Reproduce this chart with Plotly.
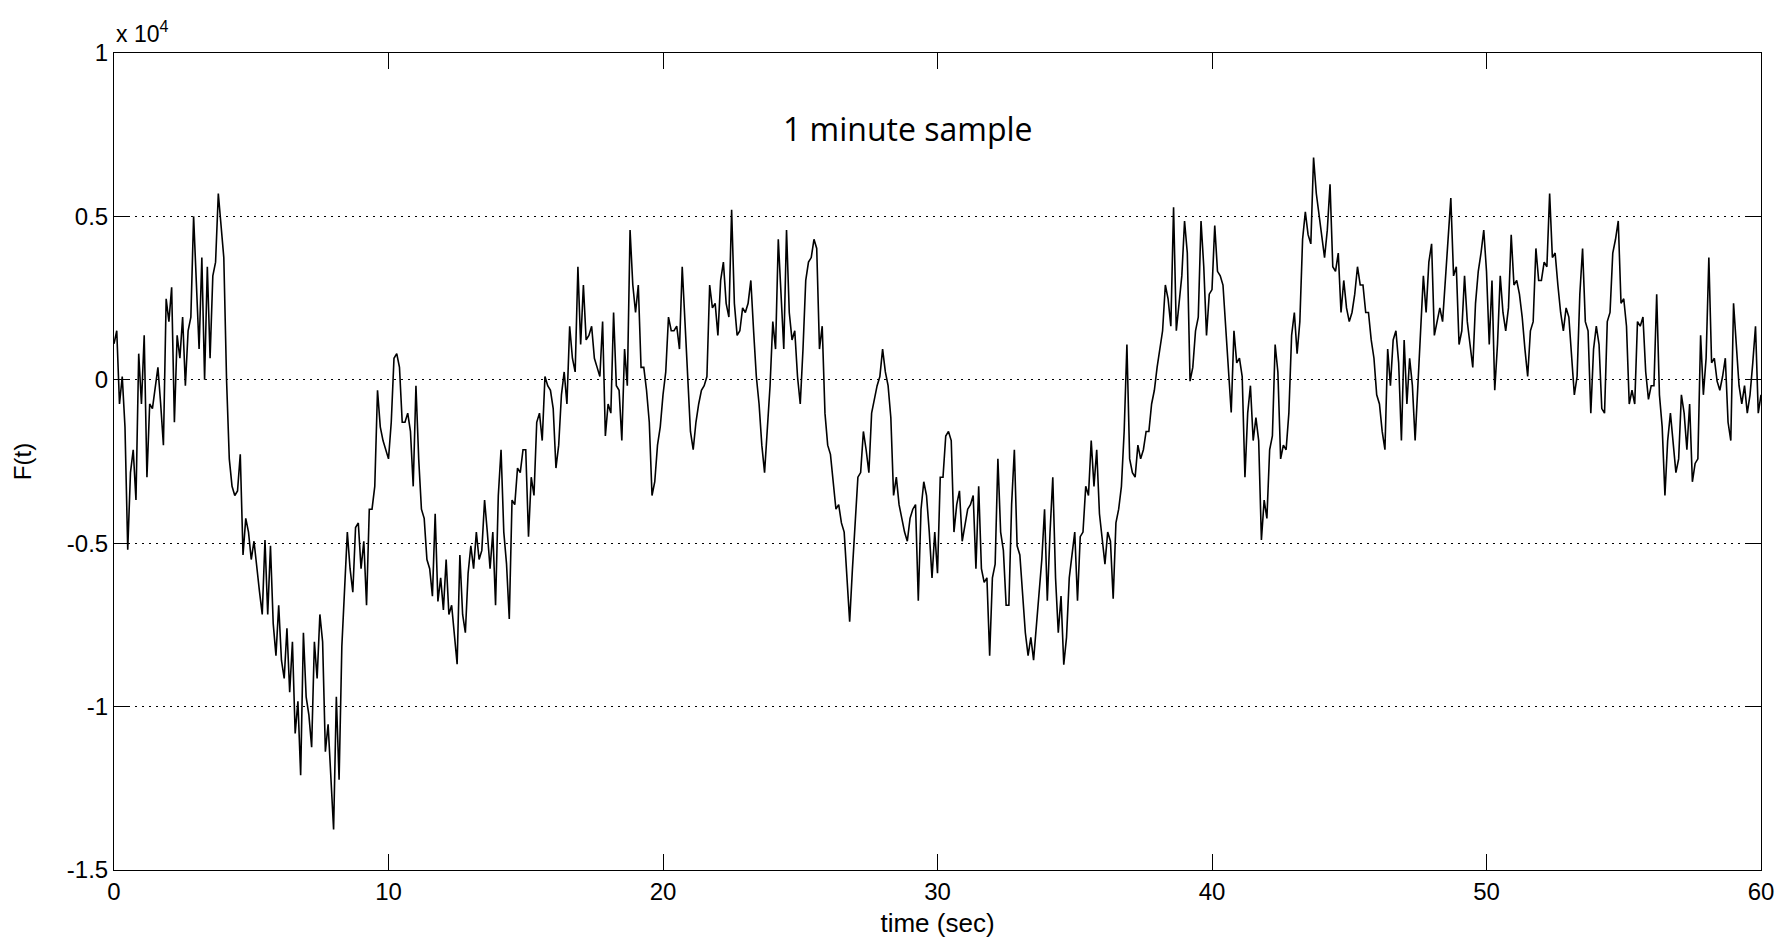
import numpy as np
import plotly.graph_objects as go

# Force record F(t), sampled every 0.1 s over one minute (601 samples).
DT = 0.1

f_00_05 = [1100, 1500, -740, 100, -1440, -5200, -2840, -2140, -3680, 800,
           -740, 1360, -2980, -740, -880, -180, 380, -740, -2000, 2480,
           1780, 2830, -1300, 1360, 660, 1920, -180, 1500, 1920, 5000,
           2760, 940, 3740, 0, 3460, 660, 3180, 3600, 5700, 4580,
           3740, 0, -2420, -3260, -3540, -3400, -2280, -5360, -4240, -4660,
           -5500, -4940, -5780, -6480]
f_05_11 = [-7180, -4900, -7180, -5080, -7460, -8440, -6900, -8580, -9140, -7600,
           -9560, -8020, -10820, -9840, -12100, -7740, -9700, -10260, -11240, -8020,
           -9140, -7180, -8020, -11380, -10540, -12100, -13760, -9700, -12240, -8160,
           -6500, -4660, -5780, -6500, -4520, -4380, -5780, -4940, -6900, -3960,
           -3960, -3260, -320, -1440, -1860, -2140, -2420, -1300, 660, 800,
           380, -1300, -1300, -1020]
f_11_16 = [-1580, -3260, -180, -2420, -3960, -4240, -5500, -5780, -6620, -4100,
           -6780, -6060, -7040, -5500, -7180, -6900, -7900, -8700, -5360, -7180,
           -7740, -5920, -5080, -5780, -4660, -5500, -5220, -3680, -4660, -5780,
           -4660, -6900, -3540, -2140, -4660, -5640, -7320, -3680, -3820, -2700,
           -2840, -2140, -2140, -4800, -2980, -3540, -1300, -1020, -1860, 100,
           -180, -320, -880, -2700, -2000]
f_16_22 = [-460, 240, -740, 1640, 660, 240, 3460, 1080, 2900, 1220,
           1360, 1640, 660, 380, 100, 1780, -1720, -740, -1020, 2060,
           -180, -320, -1860, 940, -180, 4580, 2900, 2060, 2900, 380,
           380, -320, -1300, -3540, -3120, -2000, -1440, -460, 240, 1920,
           1500, 1500, 1640, 940, 3460, 1780, 240, -1580, -2140, -1300,
           -740, -320, -180, 100]
f_22_27 = [2900, 2200, 2340, 1360, 3040, 3600, 2340, 1920, 5200, 2340,
           1360, 1500, 2200, 2060, 2340, 3040, 1500, 100, -740, -2000,
           -2840, -1440, -180, 1780, 940, 4300, 2620, 940, 4580, 2060,
           1220, 1500, 100, -740, 940, 3040, 3600, 3740, 4300, 4020,
           940, 1640, -1020, -2000, -2280, -3120, -3960, -3820, -4380, -4660,
           -6000, -7400, -5800, -4380, -2980]
f_27_33 = [-2840, -1580, -2140, -2840, -1020, -600, -180, 100, 940, 240,
           -180, -1160, -3540, -2980, -3820, -4240, -4660, -4940, -4240, -3960,
           -3820, -6760, -3960, -3120, -3540, -4660, -6060, -4660, -5920, -2980,
           -2980, -1720, -1580, -1860, -4660, -3820, -3400, -4940, -4380, -3960,
           -3820, -3540, -5780, -3260, -5780, -6200, -6060, -8440, -6060, -5640,
           -2420, -4660, -5220, -6900]
f_33_38 = [-6900, -3820, -2140, -5080, -5360, -6620, -7740, -8440, -7880, -8580,
           -7600, -6480, -5500, -3960, -6760, -4660, -2980, -6060, -7740, -6620,
           -8720, -7880, -6060, -5360, -4660, -6760, -4800, -4660, -3260, -3540,
           -1860, -3260, -2140, -4100, -4940, -5640, -4660, -4940, -6700, -4380,
           -3960, -3260, -1580, 1080, -2420, -2840, -2980, -2000, -2420, -2140,
           -1580, -1580, -740, -320, 380]
f_38_44 = [940, 1500, 2900, 2480, 1640, 5280, 1500, 2340, 3180, 4860,
           3880, -40, 380, 1500, 1920, 4860, 3460, 1360, 2620, 2760,
           4720, 3320, 3180, 2900, 1640, 380, -1000, 1500, 520, 660,
           100, -2980, -1020, -180, -1860, -1160, -1860, -4900, -3680, -4240,
           -2140, -1720, 1080, 240, -2420, -2000, -2140, -1020, 1360, 2060,
           800, 1780, 4300, 5140, 4440]
f_44_49 = [4160, 6800, 5700, 5000, 4300, 3740, 4580, 5980, 3460, 3320,
           3880, 2060, 3040, 2200, 1780, 2060, 2620, 3460, 2900, 2900,
           2060, 2060, 1220, 660, -460, -740, -1580, -2140, 940, -180,
           1220, 1500, 520, -1860, 1220, -740, 660, -180, -1860, -180,
           1780, 3180, 2060, 3600, 4160, 1360, 1780, 2200, 1780, 3040,
           4020, 5560, 3180, 3460]
f_49_55 = [1080, 1500, 3180, 1780, 1080, 380, 2340, 3320, 3880, 4580,
           3320, 1080, 3040, -320, 1080, 3180, 2060, 1500, 2200, 4440,
           2900, 3040, 2620, 1920, 940, 100, 1500, 1780, 4020, 3040,
           3040, 3600, 3460, 5700, 3740, 3880, 2900, 2060, 1500, 2200,
           1920, 660, -460, 100, 2620, 4020, 1780, 1500, -1020, 940,
           1640, 1080, -880, -1020, 1780]
f_55_60 = [2060, 3880, 4300, 4860, 2340, 2480, 1640, -740, -320, -740,
           1780, 1640, 1920, 240, -600, -180, -180, 2620, -460, -1440,
           -3540, -1860, -1020, -1860, -2840, -2420, -460, -1020, -2140, -740,
           -3120, -2560, -2420, 1360, -460, 660, 3740, 520, 660, -40,
           -320, 100, 660, -1300, -1860, 2340, 1220, -180, -740, -180,
           -1020, -460, 520, 1640, -1020, -460]

x_ticks = [0, 10, 20, 30, 40, 50, 60]
y_ticks = [-15000, -10000, -5000, 0, 5000, 10000]
y_tick_labels = ["-1.5", "-1", "-0.5", "0", "0.5", "1"]

force = np.array(f_00_05 + f_05_11 + f_11_16 + f_16_22 + f_22_27 + f_27_33
                 + f_33_38 + f_38_44 + f_44_49 + f_49_55 + f_55_60, dtype=float)
time = np.arange(force.size) * DT

W, H = 1787, 945
ML, MR, MT, MB = 114, 26, 53, 63
AX_FONT = "Liberation Sans, Arial, Helvetica, sans-serif"

fig = go.Figure(go.Scatter(x=time, y=force, mode="lines",
                           line=dict(color="black", width=1.6),
                           hoverinfo="skip"))

axis_common = dict(
    showline=True, linecolor="black", linewidth=1, mirror="allticks",
    ticks="inside", ticklen=16, tickwidth=1, tickcolor="black",
    zeroline=False, tickfont=dict(family=AX_FONT, size=24, color="black"),
)

fig.update_xaxes(range=[0, 60], tickvals=x_ticks, showgrid=False,
                 title=dict(text="time (sec)", standoff=10,
                            font=dict(family=AX_FONT, size=26, color="black")),
                 **axis_common)
fig.update_yaxes(range=[-15000, 10000], tickvals=y_ticks, ticktext=y_tick_labels,
                 showgrid=True, gridcolor="black", gridwidth=1, griddash="2px,5px",
                 title=dict(text="F(t)", standoff=28,
                            font=dict(family=AX_FONT, size=24, color="black")),
                 **axis_common)

# axis multiplier and the in-plot caption
fig.add_annotation(xref="paper", yref="paper", x=0, y=1, xanchor="left", yanchor="bottom",
                   yshift=4, showarrow=False, text="x 10<sup>4</sup>",
                   font=dict(family=AX_FONT, size=23, color="black"))
fig.add_annotation(xref="paper", yref="paper", x=(908 - ML) / (W - ML - MR),
                   y=1 - (130 - MT) / (H - MT - MB), xanchor="center", yanchor="middle",
                   showarrow=False, text="1 minute sample",
                   font=dict(family="Open Sans, sans-serif", size=32, color="black"))

fig.update_layout(width=W, height=H, margin=dict(l=ML, r=MR, t=MT, b=MB),
                  plot_bgcolor="white", paper_bgcolor="white", showlegend=False)

fig.write_html("out.html")
